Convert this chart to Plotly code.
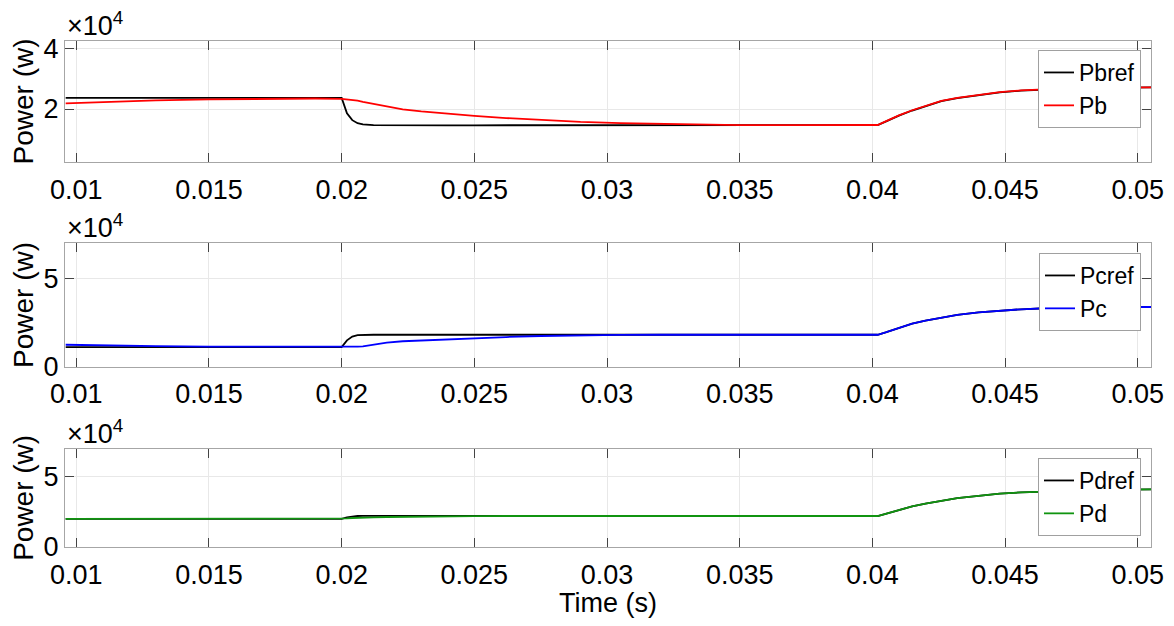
import plotly.graph_objects as go

# ---- data (power in W, time in s) ----
t = [0.0096, 0.011, 0.013, 0.015, 0.017, 0.019, 0.0200, 0.0202, 0.0204, 0.0206,
     0.0208, 0.0212, 0.0217, 0.0223, 0.0230, 0.0240, 0.0250, 0.0262, 0.0275, 0.0290,
     0.0305, 0.0320, 0.0335, 0.0350, 0.0370, 0.0390, 0.0402, 0.0405, 0.0410, 0.0415,
     0.0420, 0.0426, 0.0432, 0.0440, 0.0448, 0.0456, 0.0465, 0.0475, 0.0485, 0.0495,
     0.0505]

pbref = [23700, 23700, 23700, 23700, 23700, 23700, 23700, 18600, 16300, 15300,
         14900, 14650, 14600, 14600, 14600, 14600, 14600, 14600, 14600, 14600,
         14600, 14600, 14600, 14600, 14600, 14600, 14650, 15800, 17800, 19500,
         21000, 22600, 23600, 24600, 25500, 26100, 26500, 26800, 27000, 27100,
         27200]
pb = [21900, 22400, 22900, 23200, 23400, 23500, 23400, 23200, 23100, 22800,
      22400, 21800, 20800, 19900, 19200, 18400, 17700, 17000, 16300, 15700,
      15300, 15000, 14750, 14650, 14650, 14650, 14700, 15900, 17900, 19600,
      21100, 22700, 23700, 24700, 25600, 26200, 26600, 26900, 27100, 27200,
      27200]

pcref = [11200, 11200, 11200, 11200, 11200, 11200, 11200, 15000, 17200, 18000,
         18200, 18200, 18200, 18200, 18200, 18200, 18200, 18200, 18200, 18200,
         18200, 18200, 18200, 18200, 18200, 18200, 18200, 19500, 22200, 24500,
         26300, 28000, 29500, 30900, 31900, 32700, 33300, 33600, 33800, 33900,
         34000]
pc = [12500, 12000, 11700, 11400, 11300, 11200, 11200, 11200, 11300, 11400,
      11600, 12500, 13700, 14500, 15000, 15600, 16200, 16900, 17500, 17900,
      18100, 18200, 18200, 18200, 18200, 18200, 18200, 19500, 22200, 24500,
      26300, 28000, 29500, 30900, 31900, 32700, 33300, 33600, 33800, 33900,
      34000]

pdref = [19900, 19900, 19900, 19900, 19900, 19900, 19900, 21000, 21600, 21900,
         22000, 22000, 22000, 22000, 22000, 21950, 21900, 21900, 21900, 21900,
         21900, 21900, 21900, 21900, 21900, 21900, 21900, 23500, 26200, 28700,
         30600, 32600, 34500, 36200, 37700, 38600, 39200, 39800, 40200, 40500,
         40800]
pd_ = [19900, 19900, 19900, 19900, 19900, 19900, 19900, 20200, 20500, 20700,
       20800, 21000, 21200, 21400, 21500, 21700, 21800, 21900, 21900, 21900,
       21900, 21900, 21900, 21900, 21900, 21900, 21900, 23500, 26200, 28700,
       30600, 32600, 34500, 36200, 37700, 38600, 39200, 39800, 40200, 40500,
       40800]

xtick_vals = [0.01, 0.015, 0.02, 0.025, 0.03, 0.035, 0.04, 0.045, 0.05]
xtick_text = ["0.01", "0.015", "0.02", "0.025", "0.03", "0.035", "0.04", "0.045", "0.05"]
y1_ticks = [20000, 40000]
y1_text = ["2", "4"]
y23_ticks = [0, 50000]
y23_text = ["0", "5"]

FONT = "Liberation Sans, Arial, Helvetica, sans-serif"
FS = 27
GREEN = "#109410"

# page body has an 8px default margin; figure is sized to fit inside the window
OFF = 8
W, HH = 1174 - 2 * OFF, 626 - 2 * OFF

fig = go.Figure()

panels = [
    ("x", "y", "legend", [("Pbref", pbref, "black"), ("Pb", pb, "#ff0000")]),
    ("x2", "y2", "legend2", [("Pcref", pcref, "black"), ("Pc", pc, "#0000ff")]),
    ("x3", "y3", "legend3", [("Pdref", pdref, "black"), ("Pd", pd_, GREEN)]),
]
for xa, ya, lg, series in panels:
    for name, vals, col in series:
        fig.add_trace(go.Scatter(x=t, y=vals, name=name, mode="lines",
                                 line=dict(color=col, width=1.8),
                                 xaxis=xa, yaxis=ya, legend=lg))

H = 506.0   # plot-area height in px (page y 41 .. 547)
def dom(top_px, bot_px):
    return [(547 - bot_px) / H, (547 - top_px) / H]

d1 = dom(41, 162)
d2 = dom(243.3, 366.7)
d3 = dom(448.7, 547)

xcommon = dict(range=[0.009574, 0.0505], tickmode="array", tickvals=xtick_vals,
               ticktext=xtick_text, ticks="inside", ticklen=9, tickwidth=1,
               tickcolor="#444444", showline=True, linecolor="#a6a6a6", linewidth=1.3,
               mirror="allticks", showgrid=True, gridcolor="#e8e8e8", gridwidth=1,
               zeroline=False, tickfont=dict(family=FONT, size=FS, color="black"),
               ticklabelstandoff=3, automargin=False)
ycommon = dict(ticks="inside", ticklen=9, tickwidth=1, tickcolor="#444444",
               showline=True, linecolor="#a6a6a6", linewidth=1.3, mirror="allticks",
               showgrid=True, gridcolor="#e8e8e8", gridwidth=1, zeroline=False,
               tickfont=dict(family=FONT, size=FS, color="black"), tickmode="array",
               automargin=False,
               title=dict(text="Power (w)", font=dict(family=FONT, size=28, color="black"),
                          standoff=6))

legcommon = dict(x=0.9908, xanchor="right", yanchor="top", bgcolor="white",
                 bordercolor="#a0a0a0", borderwidth=1,
                 font=dict(family=FONT, size=23, color="black"),
                 itemwidth=30, tracegroupgap=0)

fig.update_layout(
    template="none",
    width=W, height=HH,
    margin=dict(l=65 - OFF, r=1174 - 1151 - OFF, t=41 - OFF, b=626 - 547 - OFF),
    paper_bgcolor="white", plot_bgcolor="white",
    font=dict(family=FONT, color="black"),
    showlegend=True,
    xaxis=dict(xcommon, domain=[0, 1], anchor="y"),
    xaxis2=dict(xcommon, domain=[0, 1], anchor="y2"),
    xaxis3=dict(xcommon, domain=[0, 1], anchor="y3",
                title=dict(text="Time (s)", font=dict(family=FONT, size=FS, color="black"),
                           standoff=2)),
    yaxis=dict(ycommon, domain=d1, anchor="x", range=[2400, 42600],
               tickvals=y1_ticks, ticktext=y1_text),
    yaxis2=dict(ycommon, domain=d2, anchor="x2", range=[0, 70300],
                tickvals=y23_ticks, ticktext=y23_text),
    yaxis3=dict(ycommon, domain=d3, anchor="x3", range=[0, 69500],
                tickvals=y23_ticks, ticktext=y23_text),
    legend=dict(legcommon, y=(547 - 50) / H),
    legend2=dict(legcommon, y=(547 - 253) / H),
    legend3=dict(legcommon, y=(547 - 458) / H),
)

for d in (d1, d2, d3):
    fig.add_annotation(text="×10<sup>4</sup>", xref="paper", yref="paper",
                       x=0, y=d[1], xanchor="left", yanchor="bottom",
                       showarrow=False, xshift=0, yshift=-2,
                       font=dict(family=FONT, size=FS, color="black"))

fig.write_html("out.html")
